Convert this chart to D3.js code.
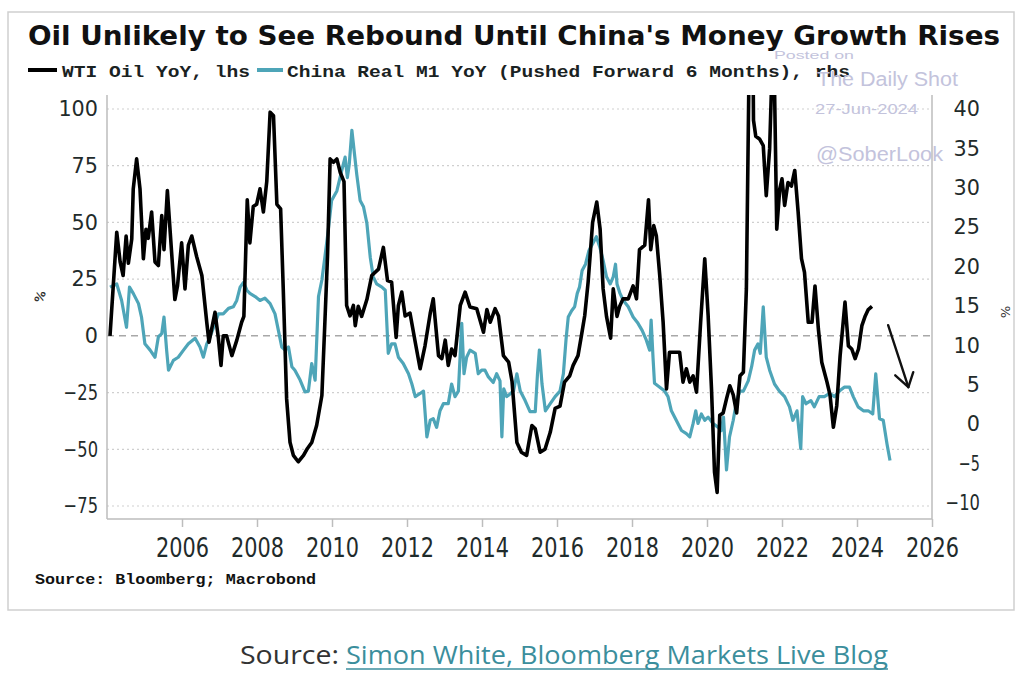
<!DOCTYPE html>
<html><head><meta charset="utf-8">
<script src="https://cdn.jsdelivr.net/npm/d3@7"></script>
<style>html,body{margin:0;padding:0;background:#fff}svg{display:block}</style>
</head><body>
<svg id="chart" width="1024" height="695"></svg>
<script>
// ---------- DATA ----------
const titleText = "Oil Unlikely to See Rebound Until China's Money Growth Rises";
const seriesNames = ["WTI Oil YoY, lhs", "China Real M1 YoY (Pushed Forward 6 Months), rhs"];
const xTicks = [2006, 2008, 2010, 2012, 2014, 2016, 2018, 2020, 2022, 2024, 2026];
const leftTicks = [100, 75, 50, 25, 0, -25, -50, -75];
const rightTicks = [40, 35, 30, 25, 20, 15, 10, 5, 0, -5, -10];

const wtiDates = [2004.08,2004.26,2004.35,2004.43,2004.51,2004.57,2004.66,2004.70,2004.79,2004.88,2004.97,
2005.04,2005.10,2005.19,2005.28,2005.37,2005.46,2005.52,2005.61,2005.68,2005.81,2005.88,2005.99,
2006.08,2006.17,2006.26,2006.39,2006.53,2006.66,2006.72,2006.79,2006.88,2006.97,
2007.04,2007.10,2007.19,2007.33,2007.46,2007.59,2007.65,2007.74,2007.81,2007.90,2007.99,
2008.08,2008.17,2008.26,2008.35,2008.44,2008.53,2008.63,2008.70,2008.79,2008.88,2008.97,
2009.10,2009.24,2009.33,2009.46,2009.59,2009.73,2009.81,2009.88,2009.95,
2010.04,2010.13,2010.22,2010.32,2010.39,2010.48,2010.57,2010.62,2010.70,2010.79,2010.93,
2011.06,2011.24,2011.37,2011.48,2011.59,2011.71,2011.77,2011.86,2011.95,
2012.08,2012.22,2012.35,2012.48,2012.62,2012.70,2012.84,2012.93,
2013.02,2013.10,2013.19,2013.28,2013.42,2013.55,2013.68,2013.86,
2014.04,2014.13,2014.22,2014.35,2014.44,2014.57,2014.71,2014.80,2014.93,
2015.05,2015.19,2015.33,2015.42,2015.55,2015.68,2015.82,2015.95,
2016.08,2016.20,2016.34,2016.43,2016.56,2016.65,2016.74,2016.83,2016.95,
2017.06,2017.15,2017.23,2017.32,2017.43,2017.50,2017.60,2017.67,2017.76,2017.90,
2018.03,2018.12,2018.20,2018.34,2018.44,2018.50,2018.58,2018.65,2018.74,2018.83,2018.92,
2019.00,2019.14,2019.27,2019.36,2019.45,2019.54,2019.63,2019.72,2019.83,2019.94,
2020.03,2020.12,2020.20,2020.27,2020.34,2020.43,2020.52,2020.61,2020.70,2020.79,2020.88,2020.97,
2021.05,2021.13,2021.19,2021.24,2021.30,2021.40,2021.50,2021.58,2021.67,2021.73,2021.80,2021.86,2021.94,
2022.00,2022.07,2022.16,2022.25,2022.34,2022.43,2022.52,2022.60,2022.70,2022.80,2022.88,2022.97,
2023.06,2023.20,2023.28,2023.37,2023.46,2023.55,2023.68,2023.77,2023.86,2023.95,
2024.04,2024.13,2024.22,2024.30,2024.40];
const wtiValues = [0,45.7,32.6,26.6,44,32,42.7,64.8,78,64.8,34,
47,43,54.6,32.6,31,53,38,64,47,16,22,41,
20.7,40,44,35,26.6,6,-2.8,3,10.4,-1,
-13,0,0,-8.7,-2,6,8.6,60,41,57,58,
64.8,54.6,68,98.6,97,58,56,20.7,-27.8,-46.9,-52.7,
-55.5,-52.7,-50,-47,-39.5,-26.3,6,35,78,
76.5,78,72,68,13.4,8.8,13.4,4.5,13,8.6,16,
26.6,29.4,39,24.4,23.7,-0.7,13.4,19.3,8.8,
10,-2.8,-14.5,-4.4,10,16.3,-8.7,-10,
-1.9,-13,-5.8,-8.7,13.4,19.3,12.7,12,
1.6,11.6,6,12,8.8,-8.7,-11.6,-20,-47,
-51.3,-52.7,-39.5,-41,-51.3,-50,-42.5,-32,
-31,-20.4,-17.6,-13,-8.7,0,9,23.7,50,
59,47,20.7,8.6,-1,20.7,8.6,13,16.3,16.3,
22,16.3,38,40,60,38,48.6,44,26.6,6,-23.4,
-7.2,-7.2,-7.2,-20.4,-14.5,-20.4,-17.6,-24.8,6,34,
9,-23.4,-60,-69,-35,-34,-27.8,-22,-26,-34,-17.6,-16,
20.7,130,200,95,88,86.8,83.9,61.8,82.4,115,110,47,64.8,
69.2,57.5,67.6,66,72.9,54.6,34,28,6,6,22,3,
-11.6,-20.4,-26,-40.3,-30.8,-8.7,14.9,-4.4,-5.8,-10,
-5.8,4.5,8.8,11.6,13];

const m1Dates = [2004.08,2004.26,2004.39,2004.52,2004.60,2004.70,2004.84,2004.92,
2005.01,2005.15,2005.28,2005.37,2005.46,2005.52,2005.59,2005.64,2005.77,2005.90,
2006.04,2006.17,2006.35,2006.48,2006.57,2006.66,2006.75,2006.88,2006.97,
2007.10,2007.24,2007.37,2007.46,2007.55,2007.64,2007.73,2007.81,2007.95,
2008.08,2008.21,2008.35,2008.48,2008.57,2008.66,2008.75,2008.84,2008.93,
2009.01,2009.15,2009.28,2009.37,2009.46,2009.55,2009.64,2009.73,2009.81,2009.90,2009.99,
2010.13,2010.26,2010.35,2010.41,2010.46,2010.53,2010.59,2010.66,2010.75,2010.84,2010.93,
2011.02,2011.10,2011.19,2011.33,2011.42,2011.50,2011.59,2011.68,2011.77,2011.90,
2012.04,2012.13,2012.22,2012.35,2012.44,2012.53,2012.62,2012.70,2012.79,2012.88,2012.97,
2013.10,2013.19,2013.28,2013.37,2013.46,2013.52,2013.59,2013.68,2013.82,2013.90,2013.99,
2014.08,2014.17,2014.30,2014.39,2014.48,2014.53,2014.58,2014.66,2014.84,2014.93,
2015.02,2015.15,2015.28,2015.42,2015.48,2015.53,2015.60,2015.69,2015.82,2015.95,
2016.08,2016.17,2016.24,2016.30,2016.39,2016.47,2016.54,2016.60,2016.67,2016.76,2016.85,2016.95,
2017.05,2017.14,2017.23,2017.32,2017.42,2017.50,2017.56,2017.60,2017.68,2017.77,2017.90,
2018.03,2018.16,2018.27,2018.38,2018.47,2018.51,2018.56,2018.60,2018.74,2018.87,2018.96,
2019.05,2019.18,2019.32,2019.45,2019.54,2019.63,2019.70,2019.76,2019.85,2019.94,
2020.03,2020.16,2020.30,2020.38,2020.44,2020.52,2020.60,2020.70,2020.79,2020.88,2020.97,
2021.10,2021.19,2021.27,2021.36,2021.42,2021.50,2021.58,2021.67,2021.80,2021.93,
2022.07,2022.20,2022.29,2022.40,2022.50,2022.55,2022.64,2022.77,2022.86,2022.99,
2023.13,2023.27,2023.40,2023.53,2023.66,2023.80,2023.90,
2024.03,2024.17,2024.30,2024.42,2024.50,2024.60,2024.70,2024.80,2024.88];
const m1Values = [17.4,17.8,15.7,12.3,17.4,16.6,15.3,13.6,
10.2,9.4,8.5,11.1,11.5,13.6,9.4,6.85,8.1,8.5,
9.4,10.2,10.9,9.8,8.5,10.2,11.1,12.8,14,
14,14.7,14.9,15.7,17.4,18,17,16.6,16.2,
15.7,16,15.3,14,11.9,9.8,9.4,9.8,7.3,
6.85,5.6,4.1,4.2,7.7,5.6,16.2,18.3,21.2,24.6,28.4,
29.6,32.2,33.9,31.3,33,37.3,34.7,31.7,28.4,27.6,25.5,
21.2,18.7,17.8,17.4,17,9,10.2,10.2,8.5,7.7,
6.4,5.1,3.5,3.9,4.2,-1.6,0.5,0.7,-0.4,1.7,2.6,
2.6,5.1,3.5,4.2,12.8,6.4,8.5,9.4,9,6.4,6.85,
6.85,6,5.3,6.4,5.5,-1.6,4.5,3.5,4.2,6.4,
4.2,3,1.6,1.6,6.4,9.4,5.1,1.7,2.6,3.5,
4.2,6.4,10.7,13.6,14.4,14.9,16.6,17.4,19.5,20.3,22,22.9,
23.8,22.5,20.8,18.7,17.8,18.7,20.3,17.8,16.6,15.7,14.9,
13.6,12.8,11.9,10.7,9.4,13.2,8.5,5.2,4.7,4.2,3.5,
1.7,0.5,-0.8,-1.2,-1.6,0.1,1.7,0.1,1.3,0.5,
0.9,0.1,-0.4,-0.8,0.9,-5.8,-1.6,0.5,3,4.2,4.2,
5.5,7.3,9.4,10.2,9,14.9,8.5,6.85,5.1,4.2,
3.5,2.2,0.5,1.7,-3.1,3.5,2.6,3,2.2,3.5,
3.5,3.9,3.5,4.2,4.7,4.7,3.5,
2.2,1.7,1.7,1.3,6.4,0.7,0.5,-2.5,-4.6];

// hand-drawn arrow annotation, in (year, rhs value) space
const arrowShaft = [[2024.83, 12.56], [2025.37, 4.7]];
const arrowHead = [[2025.02, 6.2], [2025.37, 4.7], [2025.50, 6.6]];

// ---------- LAYOUT ----------
const svg = d3.select("#chart");
const P = {l: 107, r: 932, t: 95, b: 519};
const x = d3.scaleLinear().domain([2004, 2026]).range([P.l, P.r]);
const yL = d3.scaleLinear().domain([-75, 100]).range([506, 109]);
const yR = d3.scaleLinear().domain([-10, 40]).range([503, 109]);
const black = "#000000", teal = "#4ea5b8", labelCol = "#1f2b2b", wm = "#c3c3dc";

// outer frame
svg.append("rect").attr("x", 8).attr("y", 12).attr("width", 1006).attr("height", 598)
  .attr("fill", "none").attr("stroke", "#cfcfcf").attr("stroke-width", 1.5);

// title
svg.append("text").attr("x", 28).attr("y", 45).text(titleText)
  .attr("font-family", "DejaVu Sans, Verdana, sans-serif").attr("font-weight", "bold")
  .attr("font-size", 26).attr("fill", "#111")
  .attr("textLength", 972).attr("lengthAdjust", "spacingAndGlyphs");

// legend
const legItems = [
  {name: seriesNames[0], col: black, lx: 28, lw: 29, tx: 62, tl: 188},
  {name: seriesNames[1], col: teal, lx: 257, lw: 26, tx: 287, tl: 563}
];
legItems.forEach(d => {
  svg.append("line").attr("x1", d.lx).attr("x2", d.lx + d.lw).attr("y1", 70).attr("y2", 70)
    .attr("stroke", d.col).attr("stroke-width", 4);
  svg.append("text").attr("x", d.tx).attr("y", 77).text(d.name)
    .attr("font-family", "Liberation Mono, DejaVu Sans Mono, monospace").attr("font-weight", "bold")
    .attr("font-size", 17).attr("fill", "#1a2222")
    .attr("textLength", d.tl).attr("lengthAdjust", "spacingAndGlyphs");
});

// watermark
const wmTexts = [
  {t: "Posted on", x: 774, y: 59, s: 11, w: 80},
  {t: "The Daily Shot", x: 817, y: 86, s: 20, w: 141},
  {t: "27-Jun-2024", x: 815, y: 114, s: 15, w: 103},
  {t: "@SoberLook", x: 816, y: 161, s: 20, w: 127}
];

// grid lines
const grid = svg.append("g");
leftTicks.filter(v => v !== 0).forEach(v => {
  grid.append("line").attr("x1", P.l).attr("x2", P.r).attr("y1", yL(v)).attr("y2", yL(v))
    .attr("stroke", "#cfcfcf").attr("stroke-width", 1.2).attr("stroke-dasharray", "2,3");
});
grid.append("line").attr("x1", P.l).attr("x2", P.r).attr("y1", yL(0)).attr("y2", yL(0))
  .attr("stroke", "#a8a8a8").attr("stroke-width", 1.5).attr("stroke-dasharray", "7,5");

wmTexts.forEach(d => {
  svg.append("text").attr("x", d.x).attr("y", d.y).text(d.t)
    .attr("font-family", "Liberation Sans, Arial, sans-serif").attr("font-size", d.s)
    .attr("fill", wm).attr("textLength", d.w).attr("lengthAdjust", "spacingAndGlyphs");
});

// axis frame lines
const ax = svg.append("g").attr("stroke", "#bdbdbd").attr("stroke-width", 1.5);
ax.append("line").attr("x1", P.l).attr("x2", P.l).attr("y1", P.t).attr("y2", P.b);
ax.append("line").attr("x1", P.r).attr("x2", P.r).attr("y1", P.t).attr("y2", P.b);
ax.append("line").attr("x1", P.l).attr("x2", P.r).attr("y1", P.b).attr("y2", P.b);

// label width helper (condensed look)
function lw(s) { let w = 0; for (const c of s) w += (c === "-" ? 8 : 13.2); return w; }

// left axis
const gL = svg.append("g").attr("transform", `translate(${P.l},0)`)
  .call(d3.axisLeft(yL).tickValues(leftTicks).tickSize(0).tickPadding(9));
gL.select(".domain").remove();
gL.selectAll("text").attr("font-family", "DejaVu Sans, Tahoma, sans-serif").attr("font-size", 21)
  .attr("fill", labelCol).each(function(d){ d3.select(this).attr("textLength", lw(String(d))).attr("lengthAdjust","spacingAndGlyphs"); });

// right axis
const gR = svg.append("g").attr("transform", `translate(${P.r},0)`)
  .call(d3.axisRight(yR).tickValues(rightTicks).tickSize(0));
gR.select(".domain").remove();
gR.selectAll("text").attr("x", 48).attr("text-anchor", "end")
  .attr("font-family", "DejaVu Sans, Tahoma, sans-serif").attr("font-size", 21)
  .attr("fill", labelCol).each(function(d){ d3.select(this).attr("textLength", lw(String(d))).attr("lengthAdjust","spacingAndGlyphs"); });

// bottom axis
const gB = svg.append("g").attr("transform", `translate(0,${P.b})`)
  .call(d3.axisBottom(x).tickValues(xTicks).tickSize(8).tickPadding(11).tickFormat(d3.format("d")));
gB.select(".domain").remove();
gB.selectAll(".tick line").attr("stroke", "#bdbdbd").attr("stroke-width", 1.5);
gB.selectAll("text").attr("font-family", "DejaVu Sans, Tahoma, sans-serif").attr("font-size", 27)
  .attr("fill", labelCol).attr("textLength", 53).attr("lengthAdjust", "spacingAndGlyphs");

// unit markers
svg.append("text").attr("transform", `translate(44,298) rotate(-70)`).attr("text-anchor", "middle")
  .attr("font-family", "DejaVu Sans, sans-serif").attr("font-size", 12).attr("font-weight", "bold")
  .attr("fill", "#333").text("%");
svg.append("text").attr("transform", `translate(1001,312) rotate(90)`).attr("text-anchor", "middle")
  .attr("font-family", "DejaVu Sans, sans-serif").attr("font-size", 13)
  .attr("fill", "#333").text("%");

// clip
svg.append("clipPath").attr("id", "plotclip").append("rect")
  .attr("x", P.l).attr("y", P.t).attr("width", P.r - P.l).attr("height", P.b - P.t);

const m1 = m1Dates.map((d, i) => [d, m1Values[i]]);
const wti = wtiDates.map((d, i) => [d, wtiValues[i]]);
const plot = svg.append("g").attr("clip-path", "url(#plotclip)");
plot.append("path").datum(m1)
  .attr("d", d3.line().x(d => x(d[0])).y(d => yR(d[1])))
  .attr("fill", "none").attr("stroke", teal).attr("stroke-width", 3.2).attr("stroke-linejoin", "round");
plot.append("path").datum(wti)
  .attr("d", d3.line().x(d => x(d[0])).y(d => yL(d[1])))
  .attr("fill", "none").attr("stroke", black).attr("stroke-width", 3.6).attr("stroke-linejoin", "round");

// arrow
const aLine = d3.line().x(d => x(d[0])).y(d => yR(d[1]));
svg.append("path").attr("d", aLine(arrowShaft)).attr("fill", "none").attr("stroke", "#111")
  .attr("stroke-width", 2.4).attr("stroke-linecap", "round");
svg.append("path").attr("d", aLine(arrowHead)).attr("fill", "none").attr("stroke", "#111")
  .attr("stroke-width", 2.4).attr("stroke-linecap", "round").attr("stroke-linejoin", "round");

// chart source
svg.append("text").attr("x", 35).attr("y", 584).text("Source: Bloomberg; Macrobond")
  .attr("font-family", "Liberation Mono, DejaVu Sans Mono, monospace").attr("font-weight", "bold")
  .attr("font-size", 15).attr("fill", "#111")
  .attr("textLength", 281).attr("lengthAdjust", "spacingAndGlyphs");

// page source
svg.append("text").attr("x", 240).attr("y", 664).text("Source:")
  .attr("font-family", "Open Sans, Liberation Sans, sans-serif").attr("font-size", 25).attr("fill", "#333")
  .attr("textLength", 99).attr("lengthAdjust", "spacingAndGlyphs");
svg.append("text").attr("x", 346).attr("y", 664).text("Simon White, Bloomberg Markets Live Blog")
  .attr("font-family", "Open Sans, Liberation Sans, sans-serif").attr("font-size", 25).attr("fill", "#3b8e9c")
  .attr("textLength", 542).attr("lengthAdjust", "spacingAndGlyphs");
svg.append("line").attr("x1", 346).attr("x2", 888).attr("y1", 669).attr("y2", 669)
  .attr("stroke", "#3b8e9c").attr("stroke-width", 1.5);
</script>
</body></html>
